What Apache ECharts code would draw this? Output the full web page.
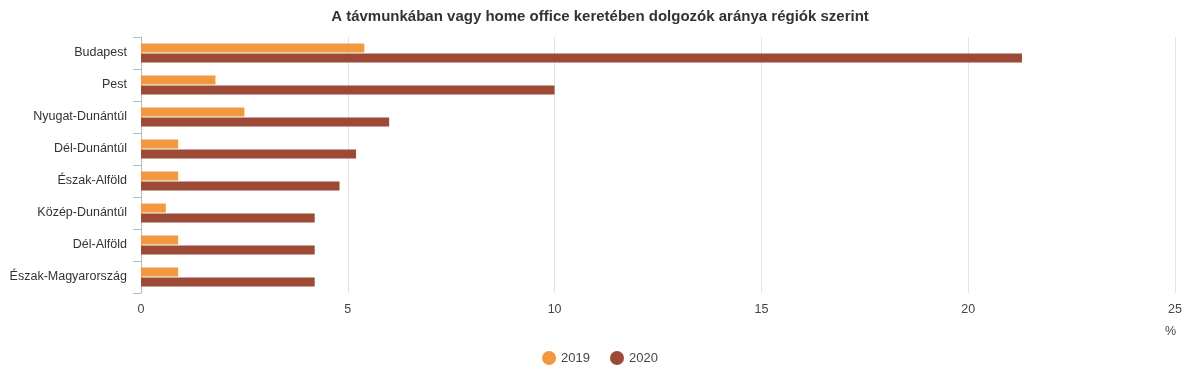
<!DOCTYPE html>
<html>
<head>
<meta charset="utf-8">
<script src="https://cdn.jsdelivr.net/npm/echarts@6/dist/echarts.min.js"></script>
<style>
  html, body { margin: 0; padding: 0; background: #fff; }
  #chart { width: 1200px; height: 375px; }
</style>
</head>
<body>
<div id="chart"></div>
<script>
// régiók fentről lefelé
const regions = ['Budapest', 'Pest', 'Nyugat-Dunántúl', 'Dél-Dunántúl', 'Észak-Alföld',
  'Közép-Dunántúl', 'Dél-Alföld', 'Észak-Magyarország']
const values2019 = [5.4, 1.8, 2.5, 0.9, 0.9, 0.6, 0.9, 0.9]
const values2020 = [21.3, 10.0, 6.0, 5.2, 4.8, 4.2, 4.2, 4.2]
const xTicks = [0, 5, 10, 15, 20, 25]

const font = 'Liberation Sans, Arial, sans-serif'
let myChart = echarts.init(document.getElementById('chart'))
myChart.setOption({
  textStyle: { fontFamily: font },
  title: {
    text: 'A távmunkában vagy home office keretében dolgozók aránya régiók szerint',
    left: 'center',
    top: 4,
    textStyle: { fontSize: 15, fontWeight: 'bold', color: '#333', fontFamily: font }
  },
  legend: {
    bottom: 5,
    left: 'center',
    icon: 'circle',
    itemWidth: 14,
    itemHeight: 14,
    itemGap: 20,
    textStyle: { fontSize: 13, color: '#444', fontFamily: font }
  },
  // mértékegység a tengely alatt, jobb oldalt
  graphic: [{
    type: 'text',
    right: 24,
    top: 325,
    style: { text: '%', fontSize: 12.5, fill: '#444', fontFamily: font }
  }],
  grid: { left: 141, right: 25, top: 37, bottom: 82, containLabel: false },
  xAxis: {
    type: 'value',
    min: xTicks[0],
    max: xTicks[xTicks.length - 1],
    interval: 5,
    axisLine: { show: false },
    axisTick: { show: false },
    axisLabel: { fontSize: 12.5, color: '#444', margin: 10 },
    splitLine: { lineStyle: { color: '#e3e3e3' } }
  },
  yAxis: {
    type: 'category',
    inverse: true,
    data: regions,
    axisLine: { show: true, lineStyle: { color: '#bbb' } },
    axisTick: { show: true, length: 8, lineStyle: { color: '#bbb' } },
    axisLabel: { fontSize: 12.5, color: '#333', margin: 14 },
    splitLine: { show: false }
  },
  series: [
    {
      name: '2019',
      type: 'bar',
      data: values2019,
      barWidth: 9,
      barGap: '10%',
      itemStyle: { color: '#f2993f' }
    },
    {
      name: '2020',
      type: 'bar',
      data: values2020,
      barWidth: 9,
      itemStyle: { color: '#9a4a37' }
    }
  ]
})
</script>
</body>
</html>
